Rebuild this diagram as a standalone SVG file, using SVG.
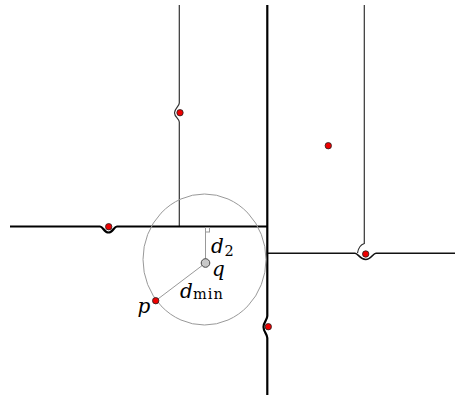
<svg xmlns="http://www.w3.org/2000/svg" width="455" height="397" viewBox="0 0 455 397">
<style>
.thick{fill:none;stroke:#000;stroke-width:2.2}
.med{fill:none;stroke:#111;stroke-width:1.6}
.thin{fill:none;stroke:#333;stroke-width:1.2}
.gray{fill:none;stroke:#999;stroke-width:1}
.site{fill:#e00;stroke:#222;stroke-width:0.8}
.q{fill:#c8c8c8;stroke:#444;stroke-width:1}
.lab{font-family:"DejaVu Serif","Liberation Serif",serif;font-style:italic;font-size:20px;fill:#000}
.sub{font-family:"DejaVu Serif","Liberation Serif",serif;font-size:14.5px;fill:#000}
</style>
<rect width="455" height="397" fill="#fff"/>
<g id="connectors">
<path class="thin" d="M179.3,5 V103 C179.3,106 174.5,108.5 174.5,112.7 C174.5,117 179.3,119 179.3,122 V226.5"/>
<path class="thin" d="M364.3,5 V243.5 C361,244.5 358.5,247 357.5,253"/>
<path class="thick" d="M10,226.5 H100 C103,226.5 104,232.5 108.5,232.5 C113,232.5 114,226.5 117,226.5 H267.3"/>
<path class="med" d="M267.3,253.3 H355 C358,253.3 360,259.5 365.7,259.5 C371,259.5 373,253.3 376,253.3 H455"/>
<path class="thick" d="M267.3,5 V316 C267.3,320 263.5,322 263.5,327 C263.5,332 267.3,334 267.3,338 V395"/>
<ellipse class="gray" cx="204.5" cy="259.5" rx="61.5" ry="65.5"/>
<path class="gray" d="M205.5,263 V227"/>
<rect class="gray" x="205.5" y="227.5" width="4" height="4.5"/>
<path class="gray" d="M205.5,263 L155.7,300.7"/>
</g>
<g id="site-a"><circle class="site" cx="180" cy="112.7" r="3.2"/></g>
<g id="site-b"><circle class="site" cx="108.7" cy="226.7" r="3.2"/></g>
<g id="site-c"><circle class="site" cx="328.3" cy="145.7" r="3.2"/></g>
<g id="site-d"><circle class="site" cx="365.7" cy="254" r="3.2"/></g>
<g id="site-e"><circle class="site" cx="268.3" cy="326.7" r="3.2"/></g>
<g id="site-p"><circle class="site" cx="155.7" cy="300.7" r="3.2"/><text class="lab" x="137.5" y="313">p</text></g>
<g id="query-q"><circle class="q" cx="205.5" cy="263" r="4.3"/><text class="lab" x="212" y="276">q</text></g>
<g id="label-d2"><text class="lab" x="211" y="253">d</text><text class="sub" x="224.5" y="256">2</text></g>
<g id="label-dmin"><text class="lab" x="180" y="298">d</text><text class="sub" x="193" y="299" letter-spacing="1">min</text></g>
</svg>
